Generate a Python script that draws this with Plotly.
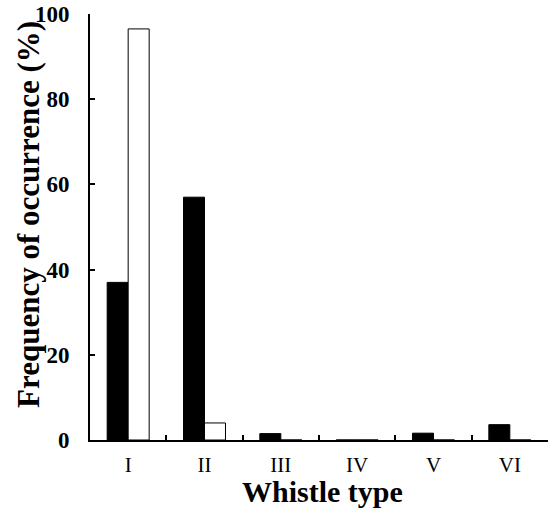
import plotly.graph_objects as go

categories = ["I", "II", "III", "IV", "V", "VI"]
series_black = [37.0, 57.0, 1.5, 0.0, 1.6, 3.6]
series_white = [96.5, 4.0, 0.0, 0.0, 0.0, 0.0]
y_ticks = [0, 20, 40, 60, 80, 100]

FONT = "Liberation Serif, Times New Roman, serif"

fig = go.Figure()
fig.add_trace(go.Bar(x=categories, y=series_black, name="A",
                     marker=dict(color="black", line=dict(color="black", width=1))))
fig.add_trace(go.Bar(x=categories, y=series_white, name="B",
                     marker=dict(color="white", line=dict(color="black", width=1))))

fig.update_layout(
    width=556, height=509,
    margin=dict(l=90, r=8, t=14, b=69, autoexpand=False),
    paper_bgcolor="white", plot_bgcolor="white",
    barmode="group", bargap=0.45, bargroupgap=0,
    showlegend=False,
    font=dict(family=FONT, color="black"),
)
fig.update_xaxes(
    automargin=False,
    showline=True, linecolor="black", linewidth=2,
    ticks="inside", tickson="boundaries", ticklen=5, tickwidth=1.5, tickcolor="black",
    tickfont=dict(family=FONT, size=21, color="black"),
    ticklabelstandoff=5,
    showgrid=False, zeroline=False,
)
fig.update_yaxes(
    automargin=False,
    range=[0, 100], tickvals=y_ticks,
    showline=True, linecolor="black", linewidth=2,
    ticks="inside", ticklen=5, tickwidth=2, tickcolor="black",
    tickfont=dict(family=FONT, size=23, color="black", weight="bold"),
    ticklabelstandoff=14, ticklabeloverflow="allow",
    showgrid=False, zeroline=False,
)
fig.add_annotation(text="Whistle type", xref="paper", yref="paper",
                   x=(322 - 90) / 458, y=-(491 - 440) / 426, showarrow=False,
                   font=dict(family=FONT, size=30, color="black", weight="bold"),
                   xanchor="center", yanchor="middle")
fig.add_annotation(text="Frequency of occurrence (%)", xref="paper", yref="paper",
                   x=-(90 - 28) / 458, y=(440 - 215) / 426, showarrow=False, textangle=-90,
                   font=dict(family=FONT, size=31, color="black", weight="bold"),
                   xanchor="center", yanchor="middle")

fig.write_html("out.html", config={"displayModeBar": False},
               post_script="document.body.style.margin='0';")
